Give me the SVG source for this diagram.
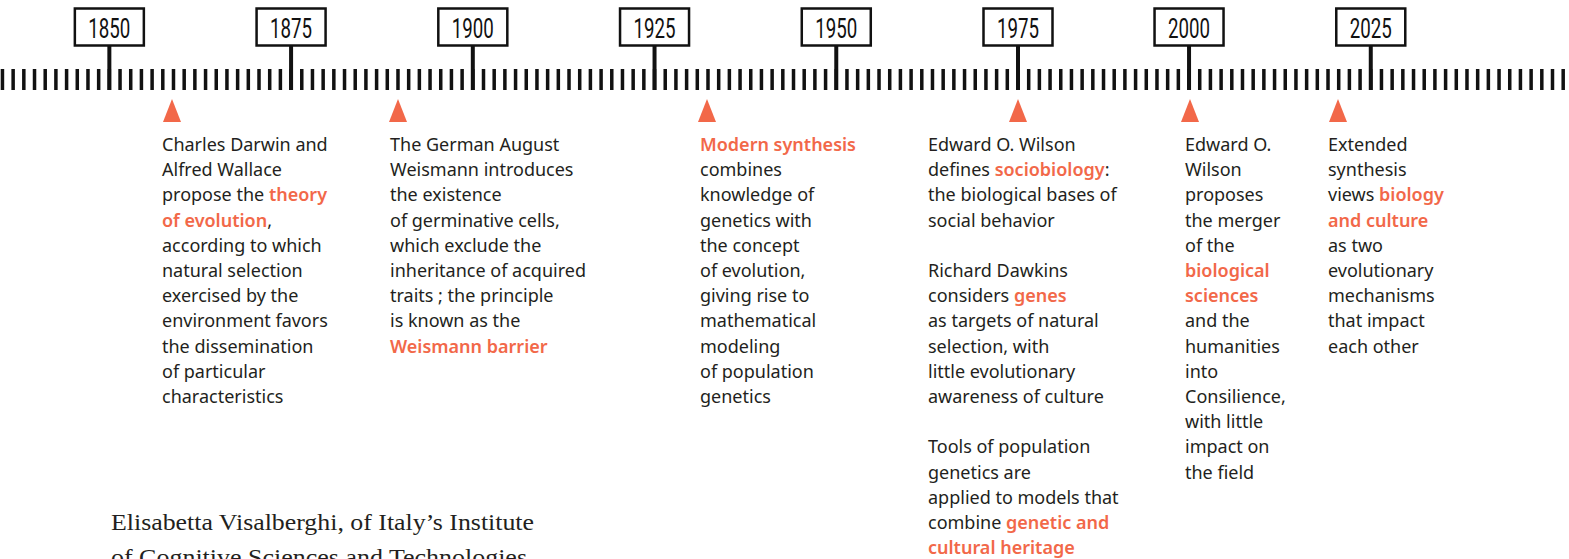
<svg xmlns="http://www.w3.org/2000/svg" width="1569" height="559" viewBox="0 0 1569 559">
<style>
.t{font-family:"Noto Sans","Open Sans",sans-serif;font-size:18px;fill:#231f20}
.hl{fill:#f26849;font-weight:600}
.yr{font-family:Roboto,"Liberation Sans",sans-serif;font-size:27.5px;fill:#111;text-anchor:middle}
.box{fill:#fff;stroke:#111;stroke-width:2.5}
.major{stroke:#111;stroke-width:4}
.tri{fill:#f26849}
.serif{font-family:"Liberation Serif","DejaVu Serif",serif;font-size:22.5px;fill:#231f20}
</style>
<defs>
<path id="tri" class="tri" d="M0 0L9 23H-9Z"/>
</defs>
<g id="axis">
<path stroke="#111" stroke-width="3.5" fill="none" d="
M2.45 69v21m10.69-21v21m10.69-21v21m10.69-21v21m10.69-21v21m10.69-21v21m10.69-21v21m10.69-21v21m10.69-21v21m10.69-21v21
M109.35 69v21m10.69-21v21m10.69-21v21m10.69-21v21m10.69-21v21m10.69-21v21m10.69-21v21m10.69-21v21m10.69-21v21m10.69-21v21
M216.25 69v21m10.69-21v21m10.69-21v21m10.69-21v21m10.69-21v21m10.69-21v21m10.69-21v21m10.69-21v21m10.69-21v21m10.69-21v21
M323.15 69v21m10.69-21v21m10.69-21v21m10.69-21v21m10.69-21v21m10.69-21v21m10.69-21v21m10.69-21v21m10.69-21v21m10.69-21v21
M430.05 69v21m10.69-21v21m10.69-21v21m10.69-21v21m10.69-21v21m10.69-21v21m10.69-21v21m10.69-21v21m10.69-21v21m10.69-21v21
M536.95 69v21m10.69-21v21m10.69-21v21m10.69-21v21m10.69-21v21m10.69-21v21m10.69-21v21m10.69-21v21m10.69-21v21m10.69-21v21
M643.85 69v21m10.69-21v21m10.69-21v21m10.69-21v21m10.69-21v21m10.69-21v21m10.69-21v21m10.69-21v21m10.69-21v21m10.69-21v21
M750.75 69v21m10.69-21v21m10.69-21v21m10.69-21v21m10.69-21v21m10.69-21v21m10.69-21v21m10.69-21v21m10.69-21v21m10.69-21v21
M857.65 69v21m10.69-21v21m10.69-21v21m10.69-21v21m10.69-21v21m10.69-21v21m10.69-21v21m10.69-21v21m10.69-21v21m10.69-21v21
M964.55 69v21m10.69-21v21m10.69-21v21m10.69-21v21m10.69-21v21m10.69-21v21m10.69-21v21m10.69-21v21m10.69-21v21m10.69-21v21
M1071.45 69v21m10.69-21v21m10.69-21v21m10.69-21v21m10.69-21v21m10.69-21v21m10.69-21v21m10.69-21v21m10.69-21v21m10.69-21v21
M1178.35 69v21m10.69-21v21m10.69-21v21m10.69-21v21m10.69-21v21m10.69-21v21m10.69-21v21m10.69-21v21m10.69-21v21m10.69-21v21
M1285.25 69v21m10.69-21v21m10.69-21v21m10.69-21v21m10.69-21v21m10.69-21v21m10.69-21v21m10.69-21v21m10.69-21v21m10.69-21v21
M1392.15 69v21m10.69-21v21m10.69-21v21m10.69-21v21m10.69-21v21m10.69-21v21m10.69-21v21m10.69-21v21m10.69-21v21m10.69-21v21
M1499.05 69v21m10.69-21v21m10.69-21v21m10.69-21v21m10.69-21v21m10.69-21v21m10.69-21v21"/>
</g>
<g id="year-1850"><line class="major" x1="109.35" y1="46" x2="109.35" y2="90"/><rect class="box" x="74.85" y="8.5" width="69" height="37"/><text class="yr" x="109.35" y="37.5" textLength="42" lengthAdjust="spacingAndGlyphs">1850</text></g>
<g id="year-1875"><line class="major" x1="291.08" y1="46" x2="291.08" y2="90"/><rect class="box" x="256.58" y="8.5" width="69" height="37"/><text class="yr" x="291.08" y="37.5" textLength="42" lengthAdjust="spacingAndGlyphs">1875</text></g>
<g id="year-1900"><line class="major" x1="472.81" y1="46" x2="472.81" y2="90"/><rect class="box" x="438.31" y="8.5" width="69" height="37"/><text class="yr" x="472.81" y="37.5" textLength="42" lengthAdjust="spacingAndGlyphs">1900</text></g>
<g id="year-1925"><line class="major" x1="654.54" y1="46" x2="654.54" y2="90"/><rect class="box" x="620.04" y="8.5" width="69" height="37"/><text class="yr" x="654.54" y="37.5" textLength="42" lengthAdjust="spacingAndGlyphs">1925</text></g>
<g id="year-1950"><line class="major" x1="836.27" y1="46" x2="836.27" y2="90"/><rect class="box" x="801.77" y="8.5" width="69" height="37"/><text class="yr" x="836.27" y="37.5" textLength="42" lengthAdjust="spacingAndGlyphs">1950</text></g>
<g id="year-1975"><line class="major" x1="1018" y1="46" x2="1018" y2="90"/><rect class="box" x="983.5" y="8.5" width="69" height="37"/><text class="yr" x="1018" y="37.5" textLength="42" lengthAdjust="spacingAndGlyphs">1975</text></g>
<g id="year-2000"><line class="major" x1="1189.04" y1="46" x2="1189.04" y2="90"/><rect class="box" x="1154.54" y="8.5" width="69" height="37"/><text class="yr" x="1189.04" y="37.5" textLength="42" lengthAdjust="spacingAndGlyphs">2000</text></g>
<g id="year-2025"><line class="major" x1="1370.77" y1="46" x2="1370.77" y2="90"/><rect class="box" x="1336.27" y="8.5" width="69" height="37"/><text class="yr" x="1370.77" y="37.5" textLength="42" lengthAdjust="spacingAndGlyphs">2025</text></g>

<g id="event-darwin">
<use href="#tri" x="172" y="99"/>
<text class="t" x="162" y="151"><tspan x="162">Charles Darwin and</tspan><tspan x="162" dy="25.2">Alfred Wallace</tspan><tspan x="162" dy="25.2">propose the <tspan class="hl">theory</tspan></tspan><tspan x="162" dy="25.2"><tspan class="hl">of evolution</tspan>,</tspan><tspan x="162" dy="25.2">according to which</tspan><tspan x="162" dy="25.2">natural selection</tspan><tspan x="162" dy="25.2">exercised by the</tspan><tspan x="162" dy="25.2">environment favors</tspan><tspan x="162" dy="25.2">the dissemination</tspan><tspan x="162" dy="25.2">of particular</tspan><tspan x="162" dy="25.2">characteristics</tspan></text>
</g>
<g id="event-weismann">
<use href="#tri" x="398" y="99"/>
<text class="t" x="390" y="151"><tspan x="390">The German August</tspan><tspan x="390" dy="25.2">Weismann introduces</tspan><tspan x="390" dy="25.2">the existence</tspan><tspan x="390" dy="25.2">of germinative cells,</tspan><tspan x="390" dy="25.2">which exclude the</tspan><tspan x="390" dy="25.2">inheritance of acquired</tspan><tspan x="390" dy="25.2">traits ; the principle</tspan><tspan x="390" dy="25.2">is known as the</tspan><tspan x="390" dy="25.2" class="hl">Weismann barrier</tspan></text>
</g>
<g id="event-modern-synthesis">
<use href="#tri" x="707" y="99"/>
<text class="t" x="700" y="151"><tspan x="700" class="hl">Modern synthesis</tspan><tspan x="700" dy="25.2">combines</tspan><tspan x="700" dy="25.2">knowledge of</tspan><tspan x="700" dy="25.2">genetics with</tspan><tspan x="700" dy="25.2">the concept</tspan><tspan x="700" dy="25.2">of evolution,</tspan><tspan x="700" dy="25.2">giving rise to</tspan><tspan x="700" dy="25.2">mathematical</tspan><tspan x="700" dy="25.2">modeling</tspan><tspan x="700" dy="25.2">of population</tspan><tspan x="700" dy="25.2">genetics</tspan></text>
</g>
<g id="event-sociobiology">
<use href="#tri" x="1018" y="99"/>
<text class="t" x="928" y="151"><tspan x="928">Edward O. Wilson</tspan><tspan x="928" dy="25.2">defines <tspan class="hl">sociobiology</tspan>:</tspan><tspan x="928" dy="25.2">the biological bases of</tspan><tspan x="928" dy="25.2">social behavior</tspan><tspan x="928" dy="50.4">Richard Dawkins</tspan><tspan x="928" dy="25.2">considers <tspan class="hl">genes</tspan></tspan><tspan x="928" dy="25.2">as targets of natural</tspan><tspan x="928" dy="25.2">selection, with</tspan><tspan x="928" dy="25.2">little evolutionary</tspan><tspan x="928" dy="25.2">awareness of culture</tspan><tspan x="928" dy="50.4">Tools of population</tspan><tspan x="928" dy="25.2">genetics are</tspan><tspan x="928" dy="25.2">applied to models that</tspan><tspan x="928" dy="25.2">combine <tspan class="hl">genetic and</tspan></tspan><tspan x="928" dy="25.2" class="hl">cultural heritage</tspan></text>
</g>
<g id="event-consilience">
<use href="#tri" x="1190" y="99"/>
<text class="t" x="1185" y="151"><tspan x="1185">Edward O.</tspan><tspan x="1185" dy="25.2">Wilson</tspan><tspan x="1185" dy="25.2">proposes</tspan><tspan x="1185" dy="25.2">the merger</tspan><tspan x="1185" dy="25.2">of the</tspan><tspan x="1185" dy="25.2" class="hl">biological</tspan><tspan x="1185" dy="25.2" class="hl">sciences</tspan><tspan x="1185" dy="25.2">and the</tspan><tspan x="1185" dy="25.2">humanities</tspan><tspan x="1185" dy="25.2">into</tspan><tspan x="1185" dy="25.2">Consilience,</tspan><tspan x="1185" dy="25.2">with little</tspan><tspan x="1185" dy="25.2">impact on</tspan><tspan x="1185" dy="25.2">the field</tspan></text>
</g>
<g id="event-extended-synthesis">
<use href="#tri" x="1338" y="99"/>
<text class="t" x="1328" y="151"><tspan x="1328">Extended</tspan><tspan x="1328" dy="25.2">synthesis</tspan><tspan x="1328" dy="25.2">views <tspan class="hl">biology</tspan></tspan><tspan x="1328" dy="25.2" class="hl">and culture</tspan><tspan x="1328" dy="25.2">as two</tspan><tspan x="1328" dy="25.2">evolutionary</tspan><tspan x="1328" dy="25.2">mechanisms</tspan><tspan x="1328" dy="25.2">that impact</tspan><tspan x="1328" dy="25.2">each other</tspan></text>
</g>
<g id="caption">
<text class="serif" x="111" y="530" textLength="423" lengthAdjust="spacingAndGlyphs">Elisabetta Visalberghi, of Italy’s Institute</text>
<text class="serif" x="111" y="565" textLength="416" lengthAdjust="spacingAndGlyphs">of Cognitive Sciences and Technologies</text>
</g>
</svg>
